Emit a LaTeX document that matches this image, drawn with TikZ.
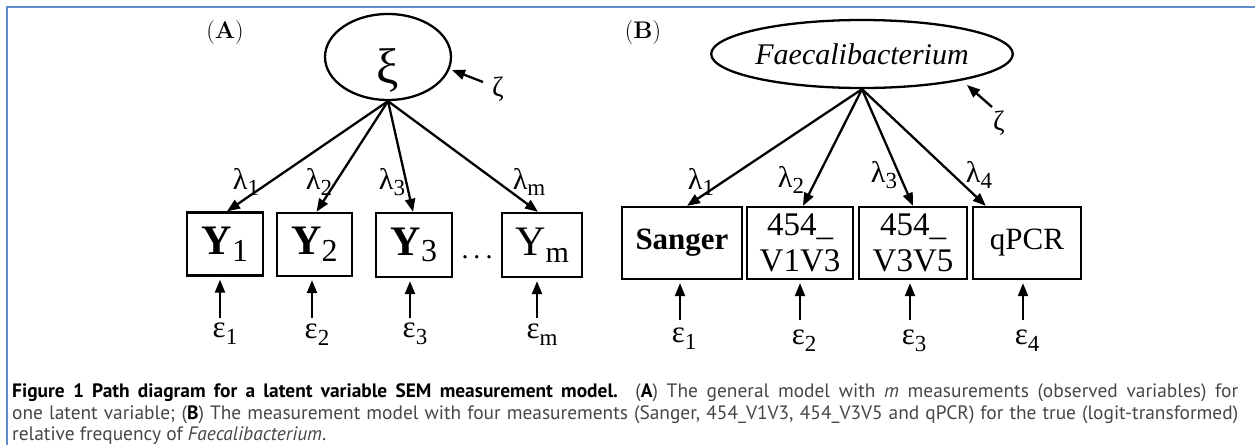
\documentclass[tikz,border=0pt]{standalone}
\usepackage{fontspec}
\usetikzlibrary{shapes.geometric,arrows.meta,calc}
\newfontfamily\tnr{Liberation Serif}
\newfontfamily\capfont{PT Sans}
\definecolor{frameblue}{RGB}{96,140,200}
\definecolor{captext}{RGB}{70,70,70}
\newcommand{\fs}[1]{\fontsize{#1}{#1}\selectfont}
\newcommand{\greek}[3]{{\tnr\fs{#1}#2\raisebox{-0.22em}{\fs{\numexpr #1*3/4\relax}#3}}}
\newcommand{\lam}[1]{\greek{30}{λ}{#1}}
\newcommand{\eps}[1]{\greek{31}{ε}{#1}}
\newcommand{\Yb}[1]{{\tnr\fs{42}\textbf{Y}\raisebox{-0.16em}{\fs{32}#1}}}
\begin{document}
\begin{tikzpicture}[x=1pt,y=-1pt,
  ln/.style={line width=2.3pt},
  arr/.style={ln,-{Triangle[length=13pt,width=10pt]}},
  obs/.style={draw,ln,rectangle,inner sep=0pt,align=center},
  lat/.style={draw,ln,ellipse,inner sep=0pt},
  lbl/.style={inner sep=0pt,anchor=center}]
\useasboundingbox (0,0) rectangle (1255,445);
% frame
\draw[frameblue,line width=2pt] (7,445) -- (7,7) -- (1255,7);

% ---------------- Panel A ----------------
\node[lbl] (la) at (225,33) {\fs{24}(\textbf{A})};
\node[lat,minimum width=126pt,minimum height=86pt] (xi) at (388,57) {};
\node[lbl] (xit) at (388,70) {\tnr\fs{50}ξ};
\coordinate (zat) at (483,82);
\node[lbl] (za) at (498,89) {\tnr\fs{28}ζ};
\draw[arr] (zat) -- (452,70);

\node[obs,minimum width=76pt,minimum height=63pt] (Y1) at (225,244) {\Yb{1}};
\node[obs,minimum width=75pt,minimum height=63pt] (Y2) at (314.5,244.5) {\Yb{2}};
\node[obs,minimum width=76pt,minimum height=64pt] (Y3) at (414,245) {\Yb{3}};
\node[obs,minimum width=80pt,minimum height=64pt] (Ym) at (542,245) {{\tnr\fs{42}Y\raisebox{-0.16em}{\fs{30}m}}};
\node[inner sep=0pt,anchor=base] (dots) at (477,258) {\tnr\fs{28}.\hspace{5pt}.\hspace{5pt}.};

\draw[arr] (xi.south) -- ([xshift=2pt]Y1.north);
\draw[arr] (xi.south) -- ([xshift=2pt]Y2.north);
\draw[arr] (xi.south) -- ([xshift=-1pt]Y3.north);
\draw[arr] (xi.south) -- ([xshift=-4pt]Ym.north);
\node[lbl] (l1) at (246,182) {\lam{1}};
\node[lbl] (l2) at (319,182) {\lam{2}};
\node[lbl] (l3) at (392,182) {\lam{3}};
\node[lbl] (lm) at (529,182) {\lam{m}};

\coordinate (t1) at (220,318);
\coordinate (t2) at (312,318);
\coordinate (t3) at (410,318);
\coordinate (tm) at (537,318);
\draw[arr,shorten >=3pt] (t1) -- (t1 |- Y1.south);
\draw[arr,shorten >=3pt] (t2) -- (t2 |- Y2.south);
\draw[arr,shorten >=3pt] (t3) -- (t3 |- Y3.south);
\draw[arr,shorten >=3pt] (tm) -- (tm |- Ym.south);
\node[lbl] (e1) at (225,334) {\eps{1}};
\node[lbl] (e2) at (317,335) {\eps{2}};
\node[lbl] (e3) at (415,334) {\eps{3}};
\node[lbl] (em) at (542,335) {\eps{m}};

% ---------------- Panel B ----------------
\node[lbl] (lb) at (643,33) {\fs{24}(\textbf{B})};
\node[lat,minimum width=280pt,minimum height=68pt,font=\tnr\fs{30}\itshape] (fa) at (862,54) {Faecalibacterium};
\coordinate (zbt) at (992,107);
\node[lbl] (zb) at (999,123) {\tnr\fs{28}ζ};
\draw[arr] (zbt) -- (967,85);

\node[obs,minimum width=120pt,minimum height=72pt,font=\tnr\fs{31}\bfseries] (S) at (682,243) {Sanger};
\node[obs,minimum width=106pt,minimum height=72pt,font=\tnr\fontsize{33}{36}\selectfont] (V13) at (800,243) {454\_\\V1V3};
\node[obs,minimum width=108pt,minimum height=72pt,font=\tnr\fontsize{33}{36}\selectfont] (V35) at (913,243) {454\_\\V3V5};
\node[obs,minimum width=108pt,minimum height=72pt,font=\tnr\fs{31}] (Q) at (1027,243) {qPCR};

\draw[arr] (fa.south) -- ([xshift=5pt]S.north);
\draw[arr] (fa.south) -- ([xshift=3pt]V13.north);
\draw[arr] (fa.south) -- (V35.north);
\draw[arr] (fa.south) -- ([xshift=14pt]Q.north west);
\node[lbl] (m1) at (701,182) {\lam{1}};
\node[lbl] (m2) at (791,180) {\lam{2}};
\node[lbl] (m3) at (884,175) {\lam{3}};
\node[lbl] (m4) at (979,175) {\lam{4}};

\coordinate (u1) at (680,320);
\coordinate (u2) at (800,320);
\coordinate (u3) at (910,320);
\coordinate (u4) at (1023,320);
\draw[arr,shorten >=3pt] (u1) -- (u1 |- S.south);
\draw[arr,shorten >=3pt] (u2) -- (u2 |- V13.south);
\draw[arr,shorten >=3pt] (u3) -- (u3 |- V35.south);
\draw[arr,shorten >=3pt] (u4) -- (u4 |- Q.south);
\node[lbl] (f1) at (684,339) {\eps{1}};
\node[lbl] (f2) at (804,341) {\eps{2}};
\node[lbl] (f3) at (914,341) {\eps{3}};
\node[lbl] (f4) at (1027,341) {\eps{4}};

% ---------------- Caption ----------------
\node[inner sep=0pt,anchor=base west,text=captext] (c1) at (12,397) {\capfont\fs{19.4}\makebox[1226pt][s]{\textcolor{black}{\bfseries Figure 1 Path diagram for a latent variable SEM measurement model.} (\textcolor{black}{\bfseries A}) The general model with \textit{m} measurements (observed variables) for}};
\node[inner sep=0pt,anchor=base west,text=captext] (c2) at (12,419) {\capfont\fs{19.4}\makebox[1226pt][s]{one latent variable; (\textcolor{black}{\bfseries B}) The measurement model with four measurements (Sanger, 454\_V1V3, 454\_V3V5 and qPCR) for the true (logit-transformed)}};
\node[inner sep=0pt,anchor=base west,text=captext] (c3) at (12,440) {\capfont\fs{19.4}relative frequency of \textit{Faecalibacterium}.};
\end{tikzpicture}
\end{document}
